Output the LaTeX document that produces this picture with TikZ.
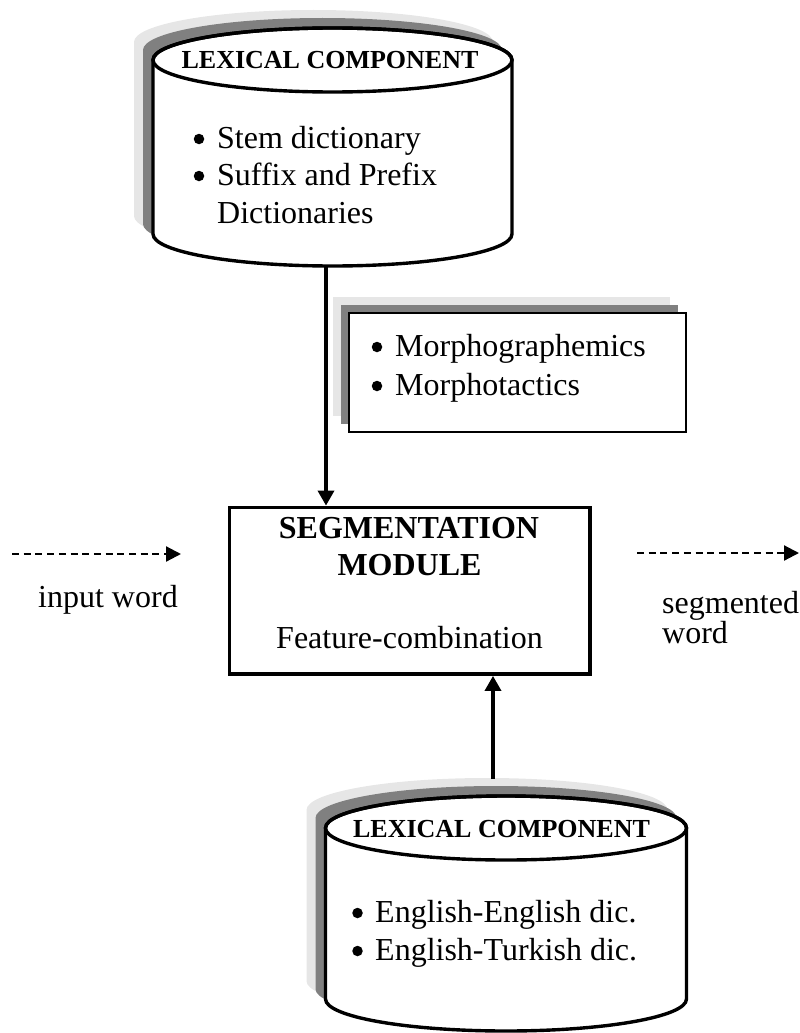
\documentclass[tikz,border=0pt]{standalone}
\usepackage{fontspec}
\setmainfont{Liberation Serif}
\usetikzlibrary{arrows.meta,shadows}

\definecolor{shadelight}{HTML}{E6E6E6}
\definecolor{shadedark}{HTML}{808080}

% outline of a drum: centre x, x radius, top-centre y, bottom-centre y, y radius
\newcommand\drumoutline[5]{({#1-#2},#3) -- ({#1-#2},#4)
  arc[start angle=180,end angle=360,x radius=#2pt,y radius=#5pt]
  -- ({#1+#2},#3)
  arc[start angle=0,end angle=180,x radius=#2pt,y radius=#5pt] -- cycle}

\tikzset{
  body/.style={font=\fontsize{32}{38}\selectfont, inner sep=0pt, anchor=base west},
  bodymid/.style={font=\fontsize{32}{38}\selectfont, inner sep=0pt, anchor=base},
  drumtitle/.style={font=\fontsize{26}{30}\selectfont\bfseries, inner sep=0pt, anchor=base},
  segtitle/.style={font=\fontsize{32}{38}\selectfont\bfseries, inner sep=0pt, anchor=base},
  itemdot/.style={circle, fill=black, inner sep=0pt, minimum size=10.5pt},
  drumline/.style={line width=3.4pt},
  solidarrow/.style={line width=3.4pt, -{Triangle[length=15pt,width=16pt]}},
  dashedarrow/.style={line width=2.2pt, dash pattern=on 7pt off 4.7pt,
    -{Triangle[length=15pt,width=15pt]}},
  rulebox/.style={draw, line width=2.4pt, fill=white, inner sep=0pt,
    general shadow={fill=shadelight, shadow xshift=-16pt, shadow yshift=16pt},
    general shadow={fill=shadedark, shadow xshift=-8pt, shadow yshift=8pt}},
}

\begin{document}
\begin{tikzpicture}[x=1pt,y=-1pt]
\useasboundingbox (0,0) rectangle (800,1033);

% ---- upper lexical drum ----
\fill[shadelight] \drumoutline{313.5}{179.5}{42}{216}{32};
\fill[shadedark] \drumoutline{322.5}{179.5}{50}{224}{32};
\draw[drumline, fill=white] \drumoutline{332.5}{179.5}{60}{234}{32};
\draw[drumline] (332.5,60) ellipse[x radius=179.5pt, y radius=32pt];
\node[drumtitle] (drumAtitle) at (330,68) {LEXICAL COMPONENT};
\node[itemdot] (drumAdotone) at (199,139) {};
\node[body] (drumAone) at (217,148) {Stem dictionary};
\node[itemdot] (drumAdottwo) at (199,176) {};
\node[body] (drumAtwo) at (217,185) {Suffix and Prefix};
\node[body] (drumAthree) at (217,223) {Dictionaries};
\coordinate (drumAfoot) at (326,267);

% ---- morphology rules box ----
\node[rulebox, minimum width=337pt, minimum height=119pt] (rules) at (517.5,372.5) {};
\node[itemdot] (rulesdotone) at (377,347) {};
\node[body] (rulesone) at (395,356) {Morphographemics};
\node[itemdot] (rulesdottwo) at (377,386) {};
\node[body] (rulestwo) at (395,395) {Morphotactics};

% ---- segmentation module ----
\node[draw, line width=3.8pt, minimum width=360.5pt, minimum height=166.5pt,
  inner sep=0pt] (seg) at (409.75,590.75) {};
\node[segtitle] (segone) at (409,538) {SEGMENTATION};
\node[segtitle] (segtwo) at (409.5,575) {MODULE};
\node[bodymid] (segthree) at (409.5,648) {Feature-combination};

% ---- lower lexical drum ----
\fill[shadelight] \drumoutline{487}{180.5}{810}{981}{32};
\fill[shadedark] \drumoutline{496}{180.5}{818}{989}{32};
\draw[drumline, fill=white] \drumoutline{506}{180.5}{828}{999}{32};
\draw[drumline] (506,828) ellipse[x radius=180.5pt, y radius=32pt];
\node[drumtitle] (drumBtitle) at (501.5,837) {LEXICAL COMPONENT};
\node[itemdot] (drumBdotone) at (357.5,913) {};
\node[body] (drumBone) at (375,922) {English-English dic.};
\node[itemdot] (drumBdottwo) at (357.5,951) {};
\node[body] (drumBtwo) at (375,960) {English-Turkish dic.};
\coordinate (drumBhead) at (493,779);

% ---- input / output ----
\coordinate (inStart) at (12,554);
\coordinate (inEnd) at (181,554);
\coordinate (outStart) at (637,553);
\coordinate (outEnd) at (799,553);
\node[body] (inlabel) at (38,607) {input word};
\node[body] (outlabelone) at (662,613) {segmented};
\node[body] (outlabeltwo) at (662,643) {word};

% ---- connectors ----
\draw[solidarrow] (drumAfoot) -- (drumAfoot |- seg.north);
\draw[solidarrow] (drumBhead) -- (drumBhead |- seg.south);
\draw[dashedarrow] (inStart) -- (inEnd);
\draw[dashedarrow] (outStart) -- (outEnd);
\end{tikzpicture}
\end{document}
